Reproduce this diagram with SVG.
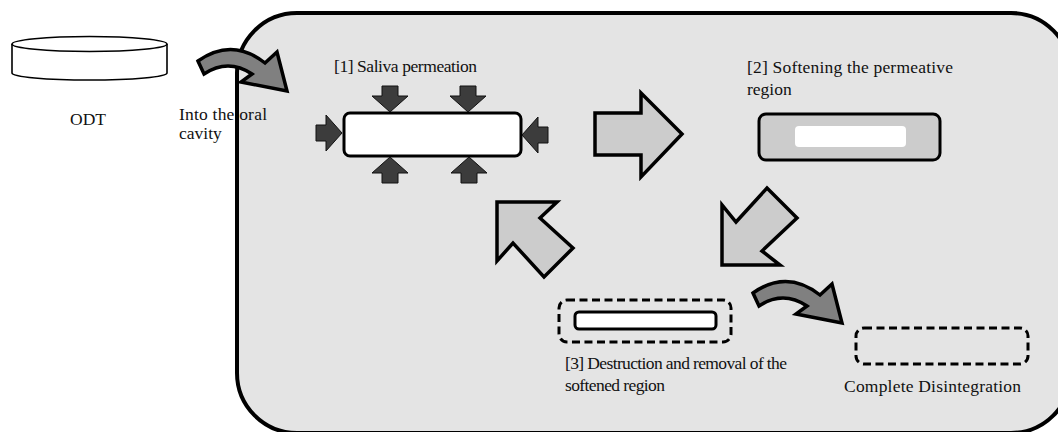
<svg xmlns="http://www.w3.org/2000/svg" xmlns:xlink="http://www.w3.org/1999/xlink" width="1058" height="432" viewBox="0 0 1058 432">
  <style>
    .lbl { font-family: "Liberation Serif", "Times New Roman", serif; font-size: 17.5px; fill: #111; }
    .cavity { fill: #e4e4e4; stroke: #000; stroke-width: 4; }
    .big-arrow { fill: #cccccc; stroke: #000; stroke-width: 3.5; stroke-linejoin: miter; }
    .curve-arrow { fill: #808080; stroke: #000; stroke-width: 3.5; stroke-linejoin: miter; }
    .push { fill: #3c3c3c; stroke: #111; stroke-width: 1; }
    .dash { fill: none; stroke: #000; stroke-width: 3; stroke-dasharray: 8 4.5; }
  </style>
  <defs>
    <!-- small pressing arrow, tip at origin, pointing down -->
    <path id="pushArrow" d="M-8,-26 L8,-26 L8,-16 L18,-16 L0,0 L-18,-16 L-8,-16 Z"/>
    <!-- curved transfer arrow -->
    <path id="curveArrow" d="M198,61 Q232,37 265,63 L277,52 L287,91 L241,82 L252,74 Q228,58 204,74 Z"/>
  </defs>

  <!-- oral cavity region -->
  <rect class="cavity" x="237" y="13" width="834" height="420" rx="60" ry="60"/>

  <!-- ODT tablet -->
  <g id="odt">
    <path d="M12,44 L12,73 A77.5,7 0 0 0 167,73 L167,44" fill="#fff" stroke="#000" stroke-width="1.6"/>
    <ellipse cx="89.5" cy="44" rx="77.5" ry="7.5" fill="#fff" stroke="#000" stroke-width="1.6"/>
    <text class="lbl" x="70" y="125">ODT</text>
  </g>

  <g id="oral-label">
    <text class="lbl" x="179" y="120" textLength="88" lengthAdjust="spacing">Into the oral</text>
    <text class="lbl" x="179" y="139">cavity</text>
  </g>

  <!-- step 1: saliva permeation -->
  <g id="step1">
    <text class="lbl" x="334" y="72" textLength="143" lengthAdjust="spacing">[1] Saliva permeation</text>
    <rect x="344" y="113" width="177" height="43" rx="6" fill="#fff" stroke="#000" stroke-width="3"/>
    <use xlink:href="#pushArrow" class="push" transform="translate(390,112)"/>
    <use xlink:href="#pushArrow" class="push" transform="translate(468,112)"/>
    <use xlink:href="#pushArrow" class="push" transform="translate(390,157) rotate(180)"/>
    <use xlink:href="#pushArrow" class="push" transform="translate(469,157) rotate(180)"/>
    <use xlink:href="#pushArrow" class="push" transform="translate(342,133) rotate(-90)"/>
    <use xlink:href="#pushArrow" class="push" transform="translate(522,135) rotate(90)"/>
  </g>

  <!-- step 2: softening -->
  <g id="step2">
    <text class="lbl" x="747" y="73" textLength="206" lengthAdjust="spacing">[2] Softening the permeative</text>
    <text class="lbl" x="747" y="95">region</text>
    <rect x="759" y="114" width="181" height="46" rx="7" fill="#cccccc" stroke="#000" stroke-width="3"/>
    <rect x="795" y="126" width="111" height="21" rx="4" fill="#fff"/>
  </g>

  <!-- step 3: destruction and removal -->
  <g id="step3">
    <rect class="dash" x="559" y="300" width="172" height="42" rx="8"/>
    <rect x="575" y="312" width="141" height="17" rx="4" fill="#fff" stroke="#000" stroke-width="3"/>
    <text class="lbl" x="565" y="369" textLength="222" lengthAdjust="spacing">[3] Destruction and removal of the</text>
    <text class="lbl" x="565" y="391" textLength="100" lengthAdjust="spacing">softened region</text>
  </g>

  <!-- final state -->
  <g id="complete">
    <rect class="dash" x="856" y="328" width="172" height="36" rx="8"/>
    <text class="lbl" x="844" y="392" textLength="177" lengthAdjust="spacing">Complete Disintegration</text>
  </g>

  <!-- cycle and transfer arrows -->
  <g id="connectors">
    <use xlink:href="#curveArrow" class="curve-arrow"/>
    <use xlink:href="#curveArrow" class="curve-arrow" transform="translate(555,232)"/>
    <path class="big-arrow" d="M595,113 L641,113 L641,93 L682,134 L641,177 L641,155 L595,155 Z"/>
    <path class="big-arrow" d="M722,265 L722,205 L736,222 L767,188 L797,218 L762,251 L780,265 Z"/>
    <path class="big-arrow" d="M497,202 L557,202 L540,218 L573,248 L544,277 L513,243 L497,261 Z"/>
  </g>
</svg>
